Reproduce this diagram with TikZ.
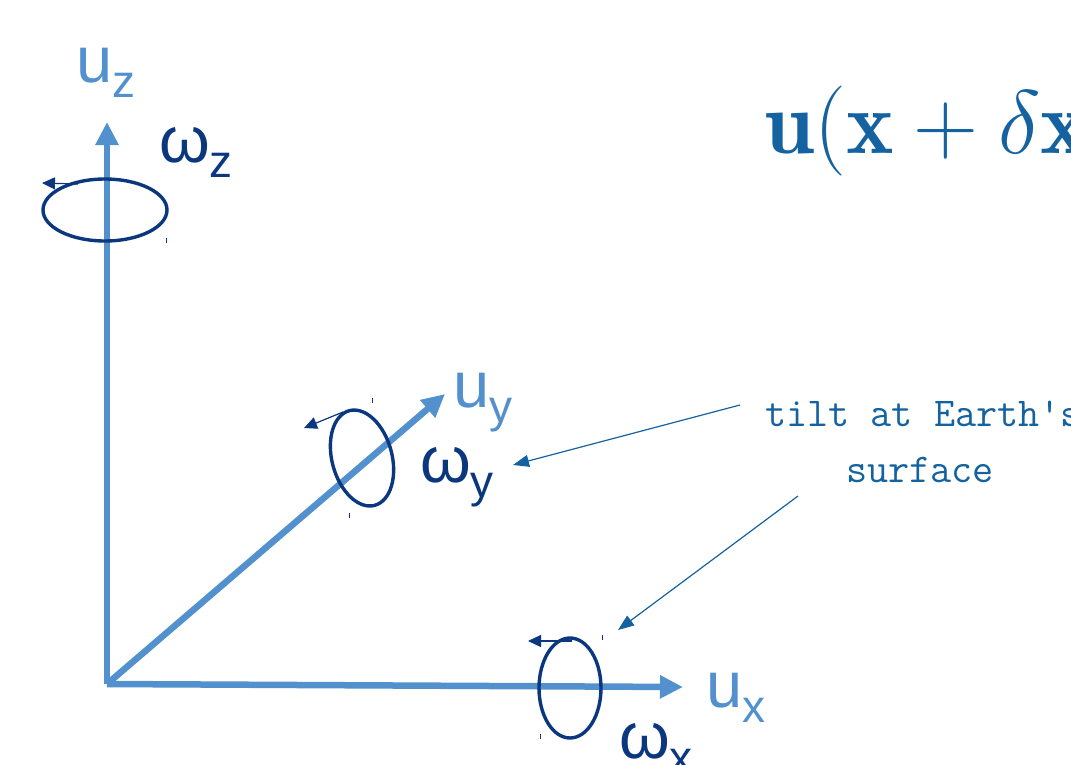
\documentclass[tikz,border=0pt]{standalone}
\usepackage{fix-cm}
\usepackage{fontspec}
\setsansfont{Liberation Sans}
\usetikzlibrary{arrows.meta}
\definecolor{axisblue}{RGB}{82,145,205}
\definecolor{spinnavy}{RGB}{10,55,125}
\definecolor{noteblue}{RGB}{20,98,160}
\newcommand{\axlab}[2]{#1\raisebox{-15pt}{\fontsize{46}{46}\selectfont #2}}

\begin{document}
\begin{tikzpicture}[x=1pt,y=-1pt,
	axis/.style={draw=axisblue,line width=6.5pt,-{Triangle[length=23pt,width=22pt]}},
	spin/.style={draw=spinnavy,line width=3.4pt},
	spinarrow/.style={draw=spinnavy,line width=1.2pt,-{Triangle[length=13pt,width=12pt]}},
	note/.style={draw=noteblue,line width=1.2pt,-{Triangle[length=16pt,width=12pt]}},
	notetext/.style={inner sep=0pt,text=noteblue,font=\ttfamily\fontsize{41}{41}\selectfont\addfontfeatures{FakeBold=0.8}},
	ulab/.style={text=axisblue,font=\sffamily\fontsize{65}{65}\selectfont,inner sep=0pt,anchor=base west},
	wlab/.style={ulab,text=spinnavy},
	tickmark/.style={draw=spinnavy,line width=0.8pt}]
		\useasboundingbox (0,0) rectangle (1071,764);
		\clip (0,0) rectangle (1071,764);
		% axes
		\coordinate (O) at (107,684);
		\coordinate (ez) at (107,122);
		\coordinate (ey) at (445,394);
		\coordinate (ex) at (683,687);
		\draw[axis] (O) -- (ez);
		\draw[axis] (O) -- (ey);
		\draw[axis] (O) -- (ex);
		\node[ulab] (uz) at (76,82) {\axlab{u}{z}};
		\node[ulab] (uy) at (453,407) {\axlab{u}{y}};
		\node[ulab] (ux) at (706,707) {\axlab{u}{x}};
		% rotations
		\coordinate (cz) at (105,210);
		\coordinate (cy) at (362,458);
		\coordinate (cx) at (570,688);
		\draw[spin] (cz) ellipse (62 and 31);
		\draw[spin,rotate around={15:(cy)}] (cy) ellipse (30 and 49);
		\draw[spin] (cx) ellipse (31 and 50);
		\draw[spinarrow] (78,184) -- (42,183);
		\draw[spinarrow] (343,412) -- (304,428);
		\draw[spinarrow] (572,641) -- (528,641);
		\draw[tickmark] (166,238) -- (166,243);
		\draw[tickmark] (372,398) -- (372,403);
		\draw[tickmark] (349,513) -- (349,518);
		\draw[tickmark] (602,635) -- (602,640);
		\draw[tickmark] (540,734) -- (540,739);
		\node[wlab] (wz) at (159,162) {\axlab{ω}{z}};
		\node[wlab] (wy) at (420,482) {\axlab{ω}{y}};
		\node[wlab] (wx) at (619,758) {\axlab{ω}{x}};
		% formula and note
		\node[anchor=base west,inner sep=0pt,text=noteblue,font=\fontsize{90}{94}\selectfont] (eq) at (764,153) {$\mathbf{u}(\mathbf{x}+\delta\mathbf{x}$};
		\node[notetext,anchor=base west] (tilt) at (765,426) {tilt at Earth's};
		\node[notetext,anchor=base] (surf) at (920,482) {surface};
		\coordinate (n1) at (740,405);
		\coordinate (n2) at (798,496);
		\draw[note] (n1) -- (513,465);
		\draw[note] (n2) -- (618,630);
	\end{tikzpicture}
\end{document}
